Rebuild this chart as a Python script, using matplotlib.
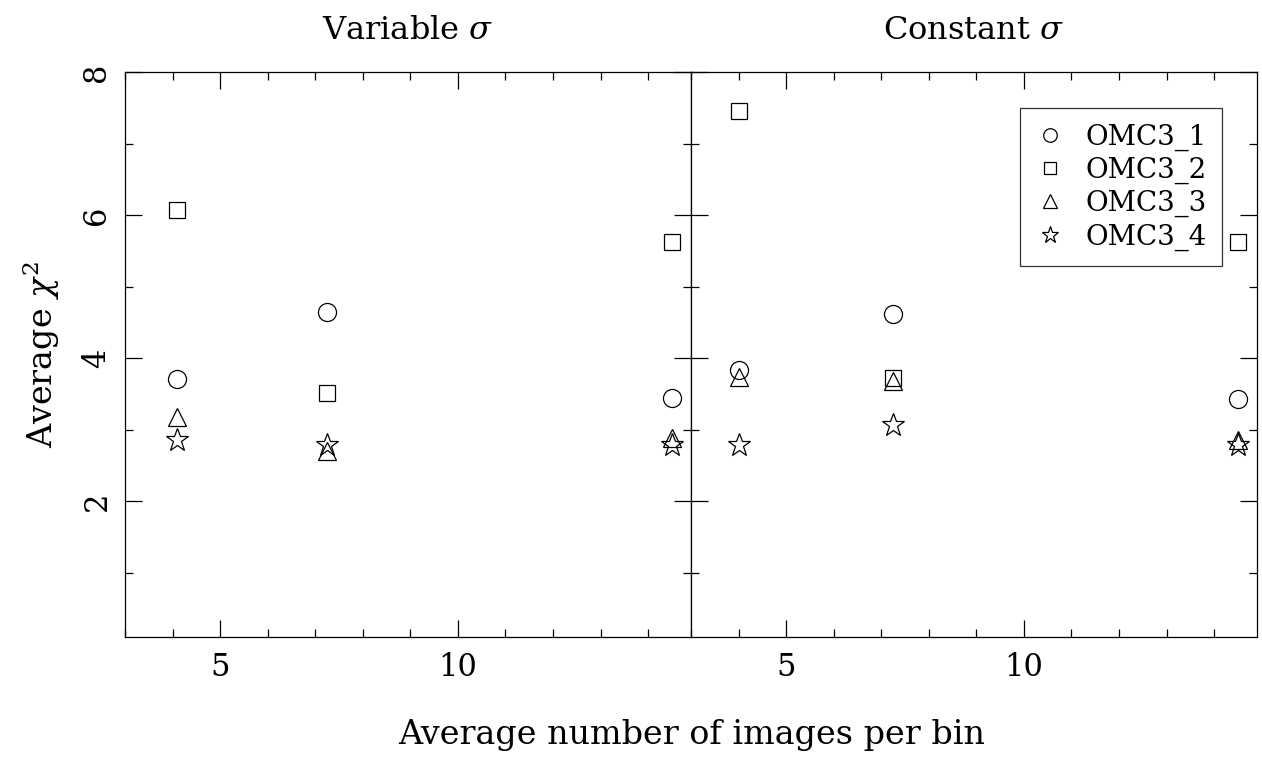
import numpy as np
import matplotlib
matplotlib.use("Agg")
import matplotlib.pyplot as plt
from matplotlib.ticker import MultipleLocator

plt.rcParams['font.family'] = ['DejaVu Serif']
plt.rcParams['mathtext.fontset'] = 'dejavuserif'

# data: average number of images per bin vs average chi^2
x_var = [4.1, 7.24, 14.5]
x_const = [4.0, 7.25, 14.5]

var_omc1 = [3.71, 4.64, 3.44]
var_omc2 = [6.07, 3.51, 5.62]
var_omc3 = [3.18, 2.70, 2.88]
var_omc4 = [2.85, 2.78, 2.79]

const_omc1 = [3.84, 4.62, 3.43]
const_omc2 = [7.45, 3.72, 5.62]
const_omc3 = [3.74, 3.68, 2.86]
const_omc4 = [2.78, 3.06, 2.79]

names = ['OMC3_1', 'OMC3_2', 'OMC3_3', 'OMC3_4']
markers = ['o', 's', '^', '*']
sizes = [13, 12, 13, 17]

fig = plt.figure(figsize=(12.62, 7.67), dpi=100)
ax1 = fig.add_axes([0.099, 0.1695, 0.4485, 0.7366])
ax2 = fig.add_axes([0.5475, 0.1695, 0.4485, 0.7366])

panels = [
    (ax1, x_var, [var_omc1, var_omc2, var_omc3, var_omc4], r'Variable $\sigma$'),
    (ax2, x_const, [const_omc1, const_omc2, const_omc3, const_omc4], r'Constant $\sigma$'),
]

for ax, xs, series, title in panels:
    for ys, name, m, s in zip(series, names, markers, sizes):
        ax.plot(xs, ys, linestyle='none', marker=m, markersize=s,
                markerfacecolor='none', markeredgecolor='black',
                markeredgewidth=0.9, label=name)
    ax.set_xlim(3, 14.9)
    ax.set_ylim(0.1, 8)
    ax.xaxis.set_major_locator(MultipleLocator(5))
    ax.xaxis.set_minor_locator(MultipleLocator(1))
    ax.yaxis.set_major_locator(MultipleLocator(2))
    ax.yaxis.set_minor_locator(MultipleLocator(1))
    ax.tick_params(which='both', direction='in', top=True, right=True,
                   width=0.9, labelsize=22, pad=11)
    ax.tick_params(which='major', length=12)
    ax.tick_params(which='minor', length=6)
    for sp in ax.spines.values():
        sp.set_linewidth(0.9)
    ax.set_title(title, fontsize=23, pad=24)

for lab in ax1.get_yticklabels():
    lab.set_rotation(90)
    lab.set_va('center')
ax1.tick_params(axis='y', pad=9)
ax1.set_ylabel(r'Average $\chi^2$', fontsize=24, labelpad=14)
ax2.tick_params(labelleft=False)

leg = ax2.legend(loc='upper right', bbox_to_anchor=(0.938, 0.936),
                 borderaxespad=0, fontsize=20,
                 frameon=True, fancybox=False, edgecolor='black',
                 handletextpad=0.7, labelspacing=0.22, borderpad=0.55,
                 handlelength=1.1, markerscale=0.75)
leg.get_frame().set_linewidth(0.9)

fig.text(0.548, 0.03, 'Average number of images per bin', ha='center',
         fontsize=24)

fig.savefig('out.png', dpi=100)
